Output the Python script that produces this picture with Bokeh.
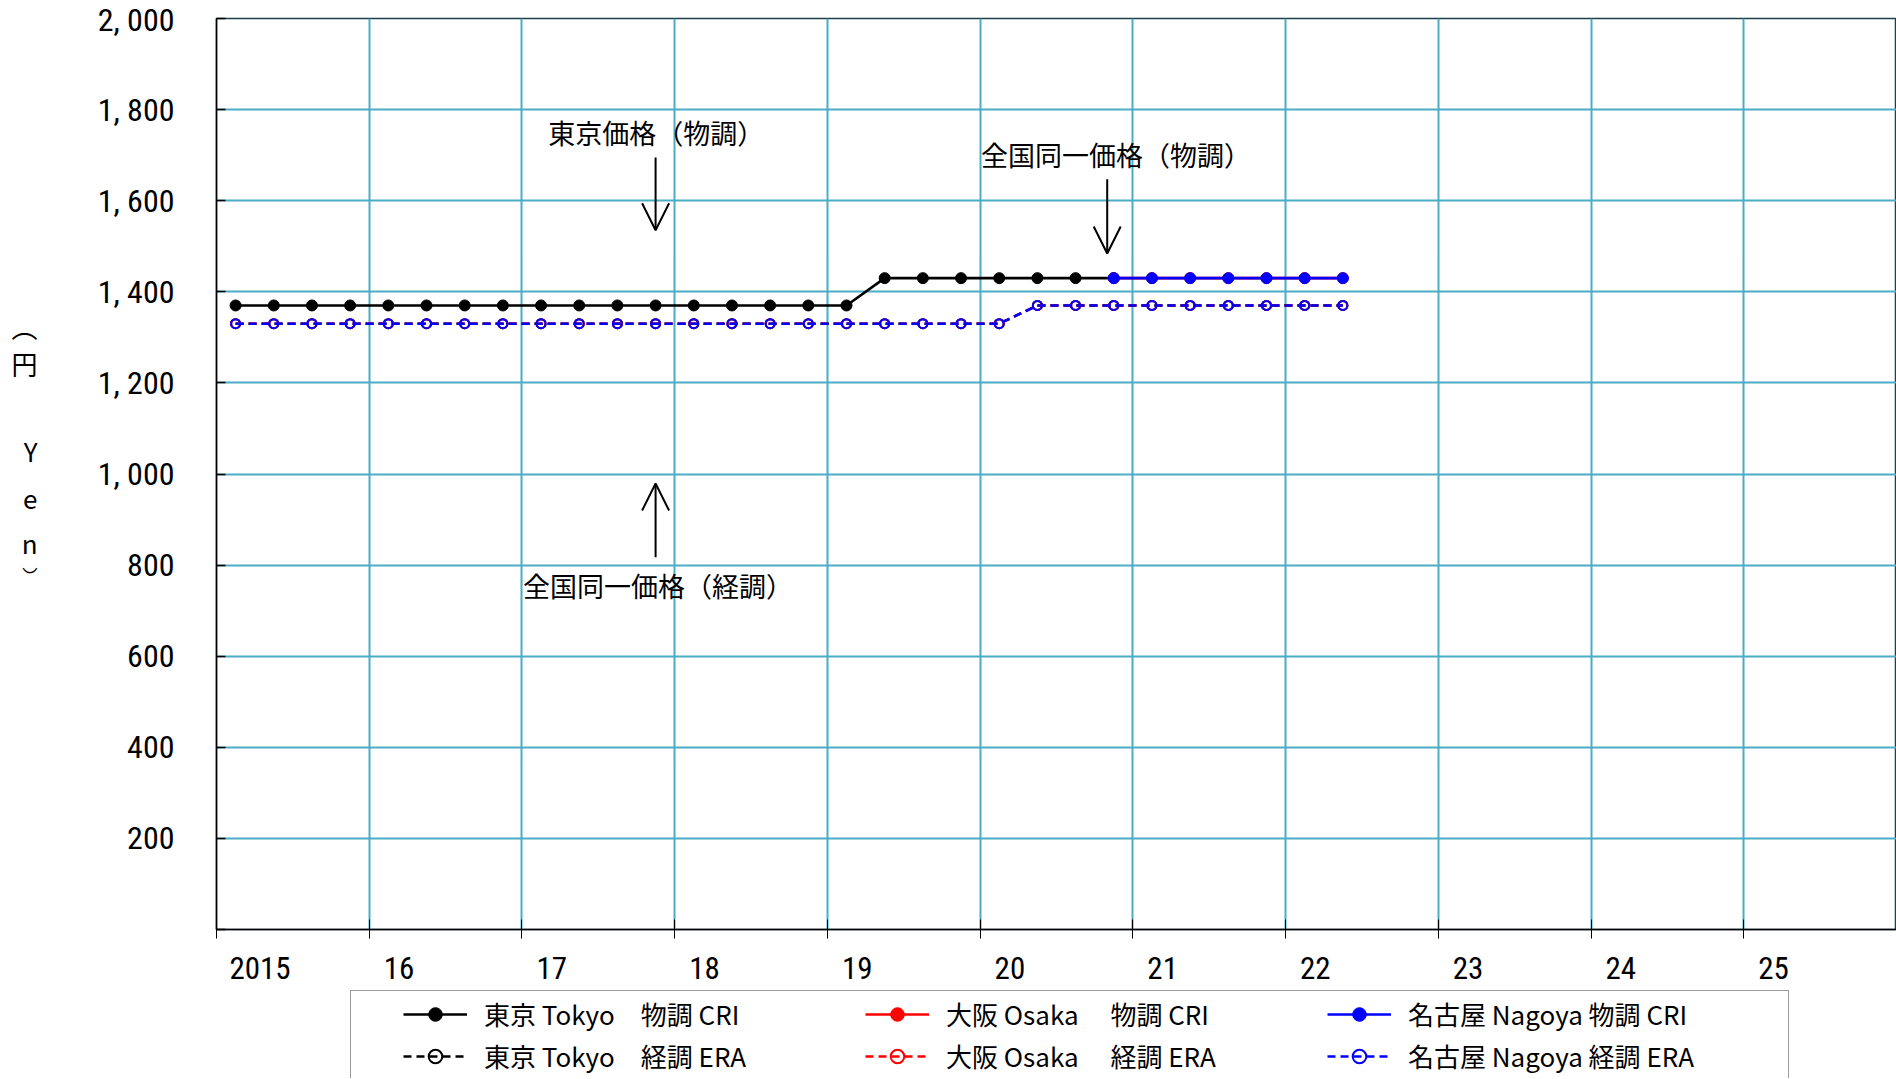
from bokeh.plotting import figure
from bokeh.layouts import column
from bokeh.models import (Range1d, FixedTicker, Label, Arrow, OpenHead, Legend, LegendItem, LinearAxis)
from bokeh.embed import file_html
from bokeh.resources import INLINE

# ---------------- data ----------------
tokyo_cri_periods = ["2015-02", "2015-05", "2015-08", "2015-11",
                     "2016-02", "2016-05", "2016-08", "2016-11",
                     "2017-02", "2017-05", "2017-08", "2017-11",
                     "2018-02", "2018-05", "2018-08", "2018-11",
                     "2019-02", "2019-05", "2019-08", "2019-11",
                     "2020-02", "2020-05", "2020-08", "2020-11"]
tokyo_cri_values = [1370, 1370, 1370, 1370, 1370, 1370, 1370, 1370,
                    1370, 1370, 1370, 1370, 1370, 1370, 1370, 1370,
                    1370, 1430, 1430, 1430, 1430, 1430, 1430, 1430]

uniform_cri_periods = ["2020-11", "2021-02", "2021-05", "2021-08", "2021-11", "2022-02", "2022-05"]
osaka_cri_values = [1430, 1430, 1430, 1430, 1430, 1430, 1430]
nagoya_cri_values = [1430, 1430, 1430, 1430, 1430, 1430, 1430]

era_periods = ["2015-02", "2015-05", "2015-08", "2015-11",
               "2016-02", "2016-05", "2016-08", "2016-11",
               "2017-02", "2017-05", "2017-08", "2017-11",
               "2018-02", "2018-05", "2018-08", "2018-11",
               "2019-02", "2019-05", "2019-08", "2019-11",
               "2020-02", "2020-05", "2020-08", "2020-11",
               "2021-02", "2021-05", "2021-08", "2021-11",
               "2022-02", "2022-05"]
tokyo_era_values = [1330, 1330, 1330, 1330, 1330, 1330, 1330, 1330,
                    1330, 1330, 1330, 1330, 1330, 1330, 1330, 1330,
                    1330, 1330, 1330, 1330, 1330, 1370, 1370, 1370,
                    1370, 1370, 1370, 1370, 1370, 1370]
osaka_era_values = [1330, 1330, 1330, 1330, 1330, 1330, 1330, 1330,
                    1330, 1330, 1330, 1330, 1330, 1330, 1330, 1330,
                    1330, 1330, 1330, 1330, 1330, 1370, 1370, 1370,
                    1370, 1370, 1370, 1370, 1370, 1370]
nagoya_era_values = [1330, 1330, 1330, 1330, 1330, 1330, 1330, 1330,
                     1330, 1330, 1330, 1330, 1330, 1330, 1330, 1330,
                     1330, 1330, 1330, 1330, 1330, 1370, 1370, 1370,
                     1370, 1370, 1370, 1370, 1370, 1370]

year_ticks = [2015, 2016, 2017, 2018, 2019, 2020, 2021, 2022, 2023, 2024, 2025]
year_labels = ["2015", "16", "17", "18", "19", "20", "21", "22", "23", "24", "25"]
y_ticks = [0, 200, 400, 600, 800, 1000, 1200, 1400, 1600, 1800, 2000]
y_labels = ["", "200", "400", "600", "800", "1, 000", "1, 200", "1, 400", "1, 600", "1, 800", "2, 000"]

legend_labels = ["東京 Tokyo　物調 CRI", "大阪 Osaka　 物調 CRI", "名古屋 Nagoya 物調 CRI",
                 "東京 Tokyo　経調 ERA", "大阪 Osaka　 経調 ERA", "名古屋 Nagoya 経調 ERA"]

# annotations: (text, text x, text y, arrow x, arrow start y, arrow end y)
notes = [
    ("東京価格（物調）", 2017.88, 1750, 2017.875, 1695, 1535),
    ("全国同一価格（物調）", 2020.89, 1702, 2020.832, 1647, 1484),
    ("全国同一価格（経調）", 2017.89, 756, 2017.875, 817, 979),
]

# vertical y-axis title (（円　Yen）written top to bottom), one character per line
y_title_chars = ["⌒", "円", "Y", "e", "n", "‿"]
y_title_pos = [1285, 1243, 1052, 948, 850, 822]

# ---------------- helpers ----------------
def to_x(periods):
    out = []
    for pr in periods:
        y, m = pr.split("-")
        out.append(int(y) + (int(m) - 0.5) / 12.0)
    return out

JP = "Noto Sans CJK JP"
NUM = "Liberation Sans Narrow, Roboto Condensed, DejaVu Sans Condensed, sans-serif"
GRID = "#4BACC6"

p = figure(width=1896, height=990,
           x_range=Range1d(2015, 2026.0), y_range=Range1d(0, 2000),
           output_backend="svg", toolbar_location=None,
           min_border_left=216, min_border_right=0, min_border_top=18, min_border_bottom=61,
           background_fill_color="white", border_fill_color="white")

p.outline_line_color = "#1d3f48"
p.outline_line_width = 1.5

# x axis: labels sit right of the year ticks; year ticks drawn as minor ticks
xa = p.xaxis[0]
label_pos = [t + 0.105 + 0.045 * len(lab) for t, lab in zip(year_ticks, year_labels)]
xa.ticker = FixedTicker(ticks=label_pos, minor_ticks=year_ticks)
xa.major_label_overrides = {lp: lab for lp, lab in zip(label_pos, year_labels)}
xa.major_tick_line_color = None
xa.major_tick_in = 0
xa.major_tick_out = 0
xa.minor_tick_in = 10
xa.minor_tick_out = 9
xa.minor_tick_line_color = "black"
xa.minor_tick_line_width = 1
xa.axis_line_color = "black"
xa.axis_line_width = 1.5
xa.major_label_standoff = 18
xa.major_label_text_font = NUM
xa.major_label_text_font_size = "31px"
xa.major_label_text_color = "black"

ya = p.yaxis[0]
ya.ticker = FixedTicker(ticks=y_ticks)
ya.major_label_overrides = {t: lab for t, lab in zip(y_ticks, y_labels)}
ya.major_tick_in = 9
ya.major_tick_out = 0
ya.major_tick_line_color = "black"
ya.major_tick_line_width = 1.5
ya.minor_tick_line_color = None
ya.axis_line_color = "black"
ya.axis_line_width = 1.5
ya.major_label_standoff = 42
ya.major_label_text_font = NUM
ya.major_label_text_font_size = "32px"
ya.major_label_text_color = "black"

# second (label-only) axis carrying the vertical title characters
ta = LinearAxis(ticker=FixedTicker(ticks=y_title_pos),
                major_label_overrides={v: c for v, c in zip(y_title_pos, y_title_chars)},
                axis_line_color=None, major_tick_line_color=None, minor_tick_line_color=None,
                major_tick_in=0, major_tick_out=0, major_label_standoff=57,
                major_label_text_font=JP, major_label_text_font_size="26px",
                major_label_text_color="black")
p.add_layout(ta, "left")

p.xgrid.ticker = FixedTicker(ticks=year_ticks[1:])
p.ygrid.ticker = FixedTicker(ticks=y_ticks[1:-1])
for g in (p.xgrid, p.ygrid):
    g.grid_line_color = GRID
    g.grid_line_width = 2

# ---------------- series ----------------
def series(fig, periods, values, color, dashed):
    xs = to_x(periods)
    if dashed:
        ln = fig.line(xs, values, line_color=color, line_width=2.5, line_dash="8 5")
        sc = fig.scatter(xs, values, marker="circle", size=9, line_color=color, line_width=2,
                         fill_alpha=0)
    else:
        ln = fig.line(xs, values, line_color=color, line_width=2.6)
        sc = fig.scatter(xs, values, marker="circle", size=11, line_color=color, fill_color=color)
    return [ln, sc]

series(p, era_periods, tokyo_era_values, "black", True)
series(p, era_periods, osaka_era_values, "red", True)
series(p, era_periods, nagoya_era_values, "blue", True)
series(p, tokyo_cri_periods, tokyo_cri_values, "black", False)
series(p, uniform_cri_periods, osaka_cri_values, "red", False)
series(p, uniform_cri_periods, nagoya_cri_values, "blue", False)

# ---------------- annotations ----------------
for txt, tx, ty, ax, ay0, ay1 in notes:
    p.add_layout(Label(x=tx, y=ty, text=txt, text_align="center", text_baseline="middle",
                       text_font=JP, text_font_size="27px", text_color="black"))
    p.add_layout(Arrow(end=OpenHead(size=27, line_width=2, line_color="black"),
                       x_start=ax, y_start=ay0, x_end=ax, y_end=ay1,
                       line_width=2, line_color="black"))

# ---------------- legend (separate strip below the chart) ----------------
lg = figure(width=1896, height=88, x_range=Range1d(0, 1), y_range=Range1d(0, 1),
            output_backend="svg", toolbar_location=None,
            x_axis_location=None, y_axis_location=None,
            min_border_left=0, min_border_right=0, min_border_top=0, min_border_bottom=0,
            background_fill_color="white", border_fill_color="white")
lg.outline_line_color = None
lg.xgrid.visible = False
lg.ygrid.visible = False
# same series as legend proxies (their data lies outside this strip's ranges)
l_t_cri = series(lg, tokyo_cri_periods, tokyo_cri_values, "black", False)
l_o_cri = series(lg, uniform_cri_periods, osaka_cri_values, "red", False)
l_n_cri = series(lg, uniform_cri_periods, nagoya_cri_values, "blue", False)
l_t_era = series(lg, era_periods, tokyo_era_values, "black", True)
l_o_era = series(lg, era_periods, osaka_era_values, "red", True)
l_n_era = series(lg, era_periods, nagoya_era_values, "blue", True)

items = [LegendItem(label=legend_labels[0], renderers=l_t_cri),
         LegendItem(label=legend_labels[1], renderers=l_o_cri),
         LegendItem(label=legend_labels[2], renderers=l_n_cri),
         LegendItem(label=legend_labels[3], renderers=l_t_era),
         LegendItem(label=legend_labels[4], renderers=l_o_era),
         LegendItem(label=legend_labels[5], renderers=l_n_era)]
legend = Legend(items=items, location=(134, -1), orientation="horizontal", ncols=3,
                glyph_width=64, glyph_height=34, label_height=34, label_width=376,
                label_standoff=17, spacing=5, padding=4, margin=0,
                title=" ", title_location="left", title_text_font_size="2px", title_standoff=46,
                label_text_font=JP, label_text_font_size="26px", label_text_color="black",
                border_line_color="#3a3a3a", border_line_width=1.5,
                background_fill_color="white", background_fill_alpha=1)
lg.add_layout(legend)

layout = column(p, lg, spacing=0)
open("out.html", "w").write(file_html(layout, INLINE))
